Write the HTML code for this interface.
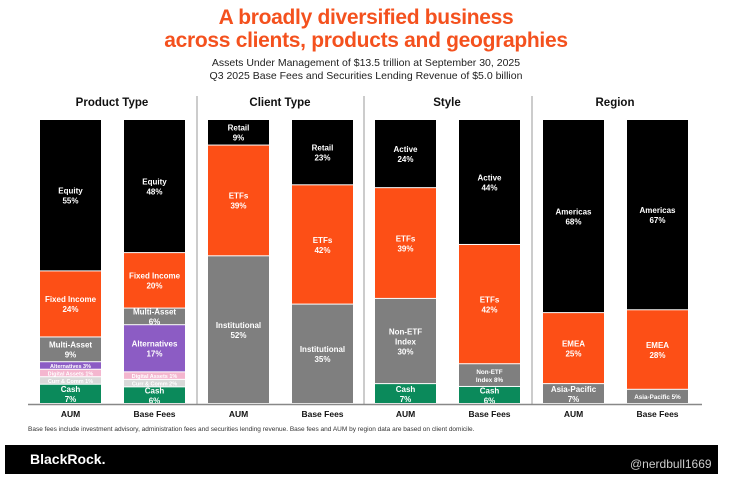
<!DOCTYPE html>
<html><head><meta charset="utf-8">
<style>
body{margin:0;width:732px;height:483px;background:#fff;font-family:"Liberation Sans",sans-serif;overflow:hidden;position:relative}
.t{position:absolute;left:0;width:732px;text-align:center}
</style></head><body>
<div class="t" style="top:6px;color:#f4511e;font-weight:bold;font-size:21px;line-height:23px;letter-spacing:-0.3px">A broadly diversified business<br>across clients, products and geographies</div>
<div class="t" style="top:57px;font-size:10.5px;line-height:13px;color:#222">Assets Under Management of $13.5 trillion at September 30, 2025<br>Q3 2025 Base Fees and Securities Lending Revenue of $5.0 billion</div>
<svg id="c" width="732" height="483" style="position:absolute;left:0;top:0"></svg>
<div style="position:absolute;left:28px;top:426px;font-size:6.5px;color:#333">Base fees include investment advisory, administration fees and securities lending revenue. Base fees and AUM by region data are based on client domicile.</div>
<div style="position:absolute;left:5px;top:445px;width:713px;height:29px;background:#000"></div>
<div style="position:absolute;left:30px;top:451px;color:#fff;font-weight:bold;font-size:14px">BlackRock.</div>
<div style="position:absolute;left:630px;top:457px;color:#ccc;font-size:12px">@nerdbull1669</div>
<script>
const groups=["Product Type","Client Type","Style","Region"];
const barNames=["AUM","Base Fees"];
const segLabels=[
 [["Cash","Curr & Comm 1%","Digital Assets 1%","Alternatives 3%","Multi-Asset","Fixed Income","Equity"],["Cash","Curr & Comm 2%","Digital Assets 1%","Alternatives","Multi-Asset","Fixed Income","Equity"]],
 [["Institutional","ETFs","Retail"],["Institutional","ETFs","Retail"]],
 [["Cash","Non-ETF Index","ETFs","Active"],["Cash","Non-ETF|Index 8%","ETFs","Active"]],
 [["Asia-Pacific","EMEA","Americas"],["Asia-Pacific 5%","EMEA","Americas"]]
];
const segValues=[
 [[7,1,1,3,9,24,55],[6,2,1,17,6,20,48]],
 [[52,39,9],[35,42,23]],
 [[7,30,39,24],[6,8,42,44]],
 [[7,25,68],[5,28,67]]
];
const segColors=[
 ["#0b8a5b","#d9d9d9","#f4b6cf","#8c5cc4","#7f7f7f","#fd4f16","#000"],
 ["#7f7f7f","#fd4f16","#000"],
 ["#0b8a5b","#7f7f7f","#fd4f16","#000"],
 ["#7f7f7f","#fd4f16","#000"]
];
const NS="http://www.w3.org/2000/svg",svg=document.getElementById('c');
const top0=120,base=404,H=base-top0,MIN=7.5;
function heights(vals){
 const small=vals.map(v=>v<=3);
 const fixed=small.filter(s=>s).length*MIN;
 const rest=vals.reduce((a,v,i)=>a+(small[i]?0:v),0);
 return vals.map((v,i)=>small[i]?MIN:v/rest*(H-fixed));
}
function mk(t,a,txt){const e=document.createElementNS(NS,t);for(const k in a)e.setAttribute(k,a[k]);if(txt!=null)e.textContent=txt;svg.appendChild(e);return e;}
const gx=[40,208,375,543];
groups.forEach((g,gi)=>{
 const h=mk('text',{x:gx[gi]+72,y:106,'text-anchor':'middle','font-size':11.5,'font-weight':'bold',fill:'#111'},g);
 
 
 if(gi>0){const d=mk('line',{x1:gx[gi]-11,x2:gx[gi]-11,y1:96,y2:base,stroke:'#999','stroke-width':1});
  
  }
 for(let b=0;b<2;b++){
  const x=gx[gi]+b*84,w=61;let cur=base;
  const hs=heights(segValues[gi][b]);
  segValues[gi][b].forEach((v,si)=>{
   const y0=cur,y1=cur-hs[si];cur=y1;
   const r=mk('rect',{x:x,y:y1,width:w,height:Math.max(0,y0-y1-1),fill:segColors[gi][si]});
   
   
   let lab=segLabels[gi][b][si];const small=/\d%$/.test(lab);
   let lines;
   if(lab.includes("|"))lines=lab.split("|");
   else if(small)lines=[lab];
   else if(lab==="Non-ETF Index")lines=["Non-ETF","Index",v+"%"];
   else lines=[lab,v+"%"];
   const fs=small?(hs[si]<12?5.5:6.3):8,lh=small?8:10;
   const cy=(y0+y1)/2-(lines.length-1)*lh/2+fs*0.35;
   lines.forEach((ln,li)=>{const t=mk('text',{x:x+w/2,y:cy+li*lh,'text-anchor':'middle','font-size':fs,'font-weight':'bold',fill:'#fff'},ln);
    
    });
  });
  const bl=mk('text',{x:x+w/2,y:417,'text-anchor':'middle','font-size':8.5,'font-weight':'bold',fill:'#111'},barNames[b]);
  
  
 }
});
const ax=mk('line',{x1:28,x2:702,y1:base+0.5,y2:base+0.5,stroke:'#888','stroke-width':1.5});


</script>
</body></html>
